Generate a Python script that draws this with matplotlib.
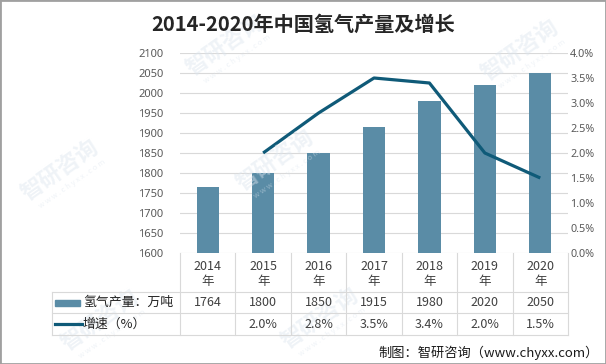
import matplotlib
matplotlib.use("Agg")
import matplotlib.pyplot as plt
from matplotlib.lines import Line2D
from matplotlib.patches import Rectangle
import matplotlib.transforms as mtransforms

plt.rcParams['font.family'] = ['Noto Sans CJK SC', 'DejaVu Sans']

# ---------------- data ----------------
years = ["2014", "2015", "2016", "2017", "2018", "2019", "2020"]
production = [1764, 1800, 1850, 1915, 1980, 2020, 2050]          # 万吨
growth = [None, 2.0, 2.8, 3.5, 3.4, 2.0, 1.5]                    # %
left_ticks = [1600, 1650, 1700, 1750, 1800, 1850, 1900, 1950, 2000, 2050, 2100]
right_ticks = [0.0, 0.5, 1.0, 1.5, 2.0, 2.5, 3.0, 3.5, 4.0]
title = "2014-2020年中国氢气产量及增长"
series_bar = "氢气产量：万吨"
series_line = "增速（%）"
footer = "制图：智研咨询（www.chyxx.com）"

W, H = 606, 364
BAR = "#5A8CA6"
LINE = "#0F5A78"
GRID = "#D9D9D9"
TICK = "#595959"
TXT = "#404040"

fig = plt.figure(figsize=(W / 100, H / 100), dpi=100)
fig.patch.set_facecolor("white")

def fx(x):
    return x / W

def fy(y):
    return 1 - y / H

L, R, T, B = 180, 568, 53, 253
ax = fig.add_axes([fx(L), fy(B), (R - L) / W, (B - T) / H])
x = list(range(len(years)))
ax.bar(x, production, width=0.4, color=BAR, zorder=2)
ax.set_xlim(-0.5, len(years) - 0.5)
ax.set_ylim(left_ticks[0], left_ticks[-1])
ax.set_yticks(left_ticks)
ax.set_xticks([])
for t in left_ticks:
    ax.axhline(t, color=GRID, lw=0.8, zorder=0)
for s in ax.spines.values():
    s.set_visible(False)
ax.tick_params(axis='y', length=0, pad=12, labelsize=8, labelcolor=TICK)
for lab in ax.get_yticklabels():
    lab.set_family(['Noto Sans', 'DejaVu Sans'])

ax2 = ax.twinx()
gx = [i for i, g in zip(x, growth) if g is not None]
gy = [g for g in growth if g is not None]
ax2.plot(gx, gy, color=LINE, lw=2.3, solid_capstyle='butt', zorder=3)
ax2.set_ylim(right_ticks[0], right_ticks[-1])
ax2.set_yticks(right_ticks)
ax2.set_yticklabels([f"{v:.1f}%" for v in right_ticks])
for s in ax2.spines.values():
    s.set_visible(False)
ax2.tick_params(axis='y', length=0, pad=1.5, labelsize=7.8, labelcolor=TICK)
for lab in ax2.get_yticklabels():
    lab.set_family(['Noto Sans', 'DejaVu Sans'])

# ---------------- data table ----------------
tr = mtransforms.blended_transform_factory(ax.transData, fig.transFigure)
row1, row2, row3 = 292, 313, 335
for i in range(len(years) + 1):
    xv = i - 0.5
    fig.add_artist(Line2D([xv, xv], [fy(B), fy(row3)], color=GRID, lw=0.8, transform=tr))
fig.add_artist(Line2D([fx(52), fx(52)], [fy(row1), fy(row3)], color=GRID, lw=0.8))
for yy in (row1, row2, row3):
    fig.add_artist(Line2D([fx(52), fx(R)], [fy(yy), fy(yy)], color=GRID, lw=0.8))

for i, yr in enumerate(years):
    fig.text(i, fy(266), yr, transform=tr, ha='center', va='center', fontsize=9, color=TXT)
    fig.text(i, fy(282), "年", transform=tr, ha='center', va='center', fontsize=9, color=TXT)
    fig.text(i, fy(302.5), f"{production[i]}", transform=tr, ha='center', va='center',
             fontsize=9, color=TXT)
    if growth[i] is not None:
        fig.text(i, fy(324.5), f"{growth[i]:.1f}%", transform=tr, ha='center', va='center',
                 fontsize=9, color=TXT)

fig.add_artist(Rectangle((fx(55), fy(306)), fx(80) - fx(55), fy(300) - fy(306),
                         transform=fig.transFigure, color=BAR))
fig.text(fx(83), fy(302.5), series_bar, ha='left', va='center', fontsize=9.3, color="#222222")
fig.add_artist(Line2D([fx(55), fx(82)], [fy(324), fy(324)], color=LINE, lw=2.3))
fig.text(fx(83), fy(324.5), series_line, ha='left', va='center', fontsize=9.3, color="#222222")

# ---------------- title / footer ----------------
fig.text(fx(303), fy(24), title, ha='center', va='center', fontsize=14.5,
         fontweight='bold', color="#262626")
fig.text(fx(599), fy(353), footer, ha='right', va='center', fontsize=9.5, color="#1a1a1a")

# ---------------- faint watermarks ----------------
wm = [(225, 45), (520, 50), (275, 160), (60, 170), (100, 320), (320, 318)]
for (wx, wy) in wm:
    fig.text(fx(wx), fy(wy), "智研咨询", rotation=35, ha='center', va='center',
             fontsize=16, color="#DCE5EE", alpha=0.45, zorder=0.5, fontweight='bold')
    fig.text(fx(wx + 12), fy(wy + 14), "w w w . c h y x x . c o m", rotation=35, ha='center',
             va='center', fontsize=5.5, color="#DCE5EE", alpha=0.45, zorder=0.5)

# border
fig.add_artist(Rectangle((0, 0), 1, 1, transform=fig.transFigure, fill=False,
                         edgecolor="#A0A0A0", lw=2))

fig.savefig("out.png", dpi=100, facecolor="white")
